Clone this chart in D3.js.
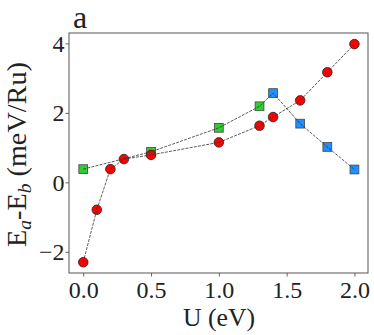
<!DOCTYPE html>
<html>
<head>
<meta charset="utf-8">
<script src="https://cdn.jsdelivr.net/npm/d3@7"></script>
<style>
  body { margin: 0; background: #fff; }
</style>
</head>
<body>
<script>
// red circle series
const circleU = [0.0, 0.1, 0.2, 0.3, 0.5, 1.0, 1.3, 1.4, 1.6, 1.8, 2.0];
const circleE = [-2.30, -0.79, 0.38, 0.67, 0.79, 1.15, 1.63, 1.88, 2.36, 3.17, 3.98];
// square series (green for low U, blue for high U)
const squareU = [0.0, 0.5, 1.0, 1.3, 1.4, 1.6, 1.8, 2.0];
const squareE = [0.38, 0.88, 1.57, 2.19, 2.57, 1.69, 1.02, 0.37];
const squareKind = ['g', 'g', 'g', 'g', 'b', 'b', 'b', 'b'];
const xTicks = [0.0, 0.5, 1.0, 1.5, 2.0];
const yTicks = [-2, 0, 2, 4];

var FONT = "'Liberation Serif'";
var width = 374;
var height = 335;
var box = { left: 69, right: 368, top: 33, bottom: 273 };

var svg = d3.select("body")
    .append("svg")
    .attr("width", width)
    .attr("height", height);

var x = d3.scaleLinear().domain([-0.105, 2.1]).range([box.left, box.right]);
var y = d3.scaleLinear().domain([-2.61, 4.30]).range([box.bottom, box.top]);

// axes
var xAxis = svg.append("g")
    .attr("transform", "translate(0," + box.bottom + ")")
    .call(d3.axisBottom(x).tickValues(xTicks).tickSize(3.5).tickPadding(4.5)
        .tickFormat(d3.format(".1f")));
var yAxis = svg.append("g")
    .attr("transform", "translate(" + box.left + ",0)")
    .call(d3.axisLeft(y).tickValues(yTicks).tickSize(3.5).tickPadding(1)
        .tickFormat(d => d < 0 ? "\u2212" + Math.abs(d) : d));

[xAxis, yAxis].forEach(function (a) {
    a.attr("font-family", null).attr("font-size", null);
    a.select(".domain").remove();
    a.selectAll("line").attr("stroke", "#555").attr("stroke-width", 0.9);
    a.selectAll("text")
        .style("font-family", FONT)
        .style("font-size", "24px")
        .attr("fill", "#222");
});

// frame
svg.append("rect")
    .attr("x", box.left).attr("y", box.top)
    .attr("width", box.right - box.left).attr("height", box.bottom - box.top)
    .attr("fill", "none").attr("stroke", "#555").attr("stroke-width", 1);

var circles = circleU.map((u, i) => ({ u: u, e: circleE[i] }));
var squares = squareU.map((u, i) => ({ u: u, e: squareE[i], k: squareKind[i] }));

// markers
svg.append("g").selectAll("rect")
    .data(squares)
    .enter()
    .append("rect")
    .attr("x", d => x(d.u) - 4.4)
    .attr("y", d => y(d.e) - 4.4)
    .attr("width", 8.8).attr("height", 8.8)
    .attr("fill", d => d.k == 'g' ? "#32cd32" : "#1e90ff")
    .attr("stroke", "#444")
    .attr("stroke-width", 0.8);

svg.append("g").selectAll("circle")
    .data(circles)
    .enter()
    .append("circle")
    .attr("cx", d => x(d.u))
    .attr("cy", d => y(d.e))
    .attr("r", 4.8)
    .attr("fill", "#ff0000")
    .attr("stroke", "#222")
    .attr("stroke-width", 0.8);

// dashed connecting lines on top
var line = d3.line().x(d => x(d.u)).y(d => y(d.e));
[circles, squares].forEach(function (data) {
    svg.append("path")
        .attr("d", line(data))
        .attr("fill", "none")
        .attr("stroke", "#333")
        .attr("stroke-width", 0.8)
        .attr("stroke-dasharray", "3,1.2");
});

// x label, sized to the reference width
var xl = svg.append("text")
    .attr("x", 219).attr("y", 326)
    .attr("text-anchor", "middle")
    .attr("fill", "#222")
    .style("font-family", FONT)
    .style("font-size", "25px")
    .text("U (eV)");
var xw = xl.node().getComputedTextLength();
if (xw > 0) xl.style("font-size", (25 * 72 / xw) + "px");

// y label, rotated, sized to the reference length
var yl = svg.append("text")
    .attr("fill", "#222")
    .style("font-family", FONT)
    .style("font-size", "26px");
yl.append("tspan").text("E");
yl.append("tspan").attr("class", "sub").attr("font-style", "italic").attr("dy", 5).style("font-size", "18px").text("a");
yl.append("tspan").attr("dy", -5).text("-E");
yl.append("tspan").attr("class", "sub").attr("font-style", "italic").attr("dy", 5).style("font-size", "18px").text("b");
yl.append("tspan").attr("dy", -5).text(" (meV/Ru)");
var yw = yl.node().getComputedTextLength();
var k = yw > 0 ? 185 / yw : 1;
yl.style("font-size", (26 * k) + "px");
yl.selectAll("tspan.sub").style("font-size", (18 * k) + "px");
yw = yl.node().getComputedTextLength() || 185;
yl.attr("transform", "translate(26," + (154.5 + yw / 2) + ") rotate(-90)");

svg.append("text")
    .attr("x", 73).attr("y", 28)
    .attr("fill", "#222")
    .style("font-family", FONT)
    .style("font-size", "32px")
    .text("a");
</script>
</body>
</html>
